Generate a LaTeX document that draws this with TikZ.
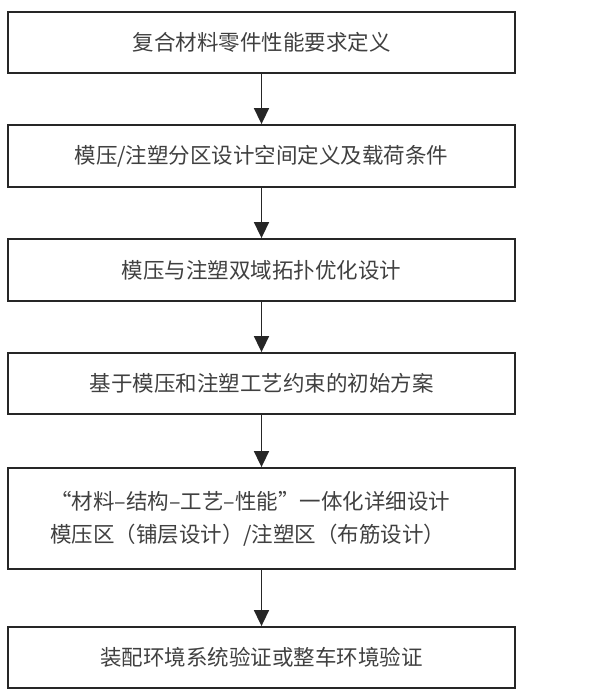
\documentclass[tikz,border=0pt]{standalone}
\usepackage{fontspec}
\setmainfont{Noto Sans CJK SC}
\usetikzlibrary{arrows.meta}
\begin{document}
\begin{tikzpicture}[x=1pt,y=-1pt,
  flowbox/.style={draw=black!85,line width=1.8pt,minimum width=507pt,inner sep=0pt,font=\fontsize{21.5}{33}\selectfont,text=black!75},
  flowarrow/.style={draw=black!85,line width=1.6pt,-{Triangle[width=15pt,length=16pt]}}]
\useasboundingbox (0,0) rectangle (590,700);
\node[flowbox,minimum height=61pt] (b1) at (261.5,42.5) {复合材料零件性能要求定义};
\node[flowbox,minimum height=62pt] (b2) at (261.5,156) {模压/注塑分区设计空间定义及载荷条件};
\node[flowbox,minimum height=62pt] (b3) at (261.5,270) {模压与注塑双域拓扑优化设计};
\node[flowbox,minimum height=61pt] (b4) at (261.5,383.5) {基于模压和注塑工艺约束的初始方案};
\node[flowbox,minimum height=101pt,inner xsep=42pt,text width=423pt,align=left] (b5) at (261.5,518.5) {“材料–结构–工艺–性能”一体化详细设计\\模压区（铺层设计）/注塑区（布筋设计）};
\node[flowbox,minimum height=61pt] (b6) at (261.5,657.5) {装配环境系统验证或整车环境验证};
\draw[flowarrow] (b1) -- (b2);
\draw[flowarrow] (b2) -- (b3);
\draw[flowarrow] (b3) -- (b4);
\draw[flowarrow] (b4) -- (b5);
\draw[flowarrow] (b5) -- (b6);
\end{tikzpicture}
\end{document}
